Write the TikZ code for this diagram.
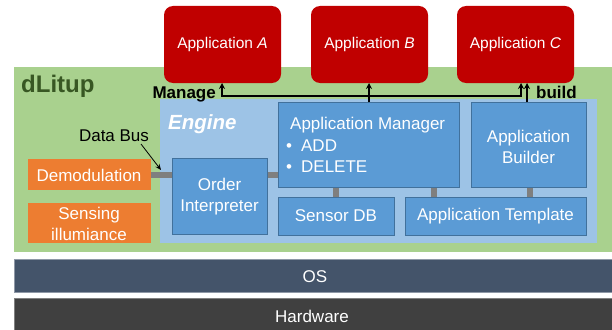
\documentclass[tikz,border=0pt]{standalone}
\usepackage{fontspec}
\setmainfont{Liberation Sans}
\usetikzlibrary{arrows.meta}
\definecolor{cgreen}{HTML}{A9D18E}
\definecolor{cdgreen}{HTML}{385723}
\definecolor{clblue}{HTML}{9DC3E6}
\definecolor{cblue}{HTML}{5B9BD5}
\definecolor{cbblue}{HTML}{41719C}
\definecolor{corange}{HTML}{ED7D31}
\definecolor{cred}{HTML}{C00000}
\definecolor{cos}{HTML}{44546A}
\definecolor{chw}{HTML}{404040}
\definecolor{cbus}{HTML}{7F7F7F}
\tikzset{
  base/.style={anchor=north west, inner sep=0pt, outer sep=0pt},
  bluebox/.style={base, fill=cblue, draw=cbblue, line width=0.8pt, text=white, font=\fontsize{17}{21}\selectfont, align=center},
  orangebox/.style={base, fill=corange, text=white, font=\fontsize{17}{21}\selectfont, align=center},
  appbox/.style={base, fill=cred, rounded corners=9pt, text=white, font=\fontsize{15.5}{19}\selectfont},
  bar/.style={base, text=white, font=\fontsize{17}{21}\selectfont},
  wtext/.style={text=white, font=\fontsize{17}{21}\selectfont, inner sep=0pt},
  bus/.style={draw=cbus, line width=6pt},
  mgr/.style={draw=black, line width=1.8pt, -{Stealth[length=6pt,width=6pt]}},
  lbl/.style={font=\fontsize{17}{21}\selectfont\bfseries, inner sep=0pt},
}
\begin{document}
\begin{tikzpicture}[x=1pt,y=-1pt]
\useasboundingbox (0,0) rectangle (612,329);
% layers
\node[base, fill=cgreen, minimum width=598pt, minimum height=185pt] (dl) at (14,67) {};
\node[base, fill=cos, draw=cos!60!white, line width=0.6pt, minimum width=600pt, minimum height=33pt] (os) at (14,259) {};
\node[wtext] (ost) at (315,277) {OS};
\node[base, fill=chw, draw=gray, line width=0.6pt, minimum width=600pt, minimum height=33pt] (hw) at (14,298) {};
\node[wtext] (hwt) at (312,316) {Hardware};
\node[anchor=west, inner sep=0pt, text=cdgreen, font=\fontsize{24}{28}\selectfont\bfseries] (dlt) at (21,86) {dLitup};
% engine
\node[base, fill=clblue, minimum width=437pt, minimum height=144pt] (eng) at (160,99) {};
\node[anchor=west, inner sep=0pt, text=white, font=\fontsize{20.5}{24}\selectfont\bfseries\itshape] (engt) at (168,124) {Engine};
% buses
\draw[bus] (151,175) -- (172,175);
\draw[bus] (267,175) -- (278,175);
\draw[bus] (336,187) -- (336,197);
\draw[bus] (434,187) -- (434,197);
\draw[bus] (530,187) -- (530,197);
% orange boxes
\node[orangebox, minimum width=123pt, minimum height=31pt] (demod) at (28,159) {};
\node[wtext] (demodt) at (89,175) {Demodulation};
\node[orangebox, minimum width=123pt, minimum height=40pt] (sens) at (28,203) {};
\node[wtext, align=center, font=\fontsize{17}{21}\selectfont] (senst) at (89,223.5) {Sensing\\illumiance};
% blue boxes
\node[bluebox, minimum width=95pt, minimum height=76pt] (oi) at (172,158) {};
\node[wtext, align=center] (oit) at (219.5,197) {Order\\Interpreter};
\node[bluebox, minimum width=181pt, minimum height=85pt] (am) at (278,102) {};
\node[wtext, anchor=west] (amt) at (290,125) {Application Manager};
\node[wtext, anchor=west] (am1) at (286,146) {•\hspace{9pt}ADD};
\node[wtext, anchor=west] (am2) at (286,167) {•\hspace{9pt}DELETE};
\node[bluebox, minimum width=115pt, minimum height=85pt] (ab) at (471,102) {};
\node[wtext, align=center] (abt) at (528.5,146.5) {Application\\Builder};
\node[bluebox, minimum width=116pt, minimum height=38pt] (sdb) at (278,197) {};
\node[wtext] (sdbt) at (336,216) {Sensor DB};
\node[bluebox, minimum width=181pt, minimum height=38pt] (at) at (405,197) {};
\node[wtext] (att) at (495.5,216) {Application Template};
% applications
\node[appbox, minimum width=117pt, minimum height=77pt] (appA) at (164,6) {};
\node[wtext, font=\fontsize{15.5}{19}\selectfont] (appAt) at (222.5,44.5) {Application \textit{A}};
\node[appbox, minimum width=117pt, minimum height=77pt] (appB) at (311,6) {};
\node[wtext, font=\fontsize{15.5}{19}\selectfont] (appBt) at (369.5,44.5) {Application \textit{B}};
\node[appbox, minimum width=117pt, minimum height=77pt] (appC) at (457,6) {};
\node[wtext, font=\fontsize{15.5}{19}\selectfont] (appCt) at (515.5,44.5) {Application \textit{C}};
% manage arrows
\coordinate (mj) at (369,96);
\draw[mgr] (am.north -| mj) -- (appB.south -| mj);
\draw[mgr] (mj) -- (222,96) -- (222,83);
\draw[mgr] (mj) -- (521,96) -- (521,83);
\draw[mgr] (527,102) -- (527,83);
\node[lbl, anchor=east] (mt) at (216,94) {Manage};
\node[lbl, anchor=west] (bt) at (536,92) {build};
% data bus
\node[font=\fontsize{17}{21}\selectfont, inner sep=0pt] (dbt) at (114,136) {Data Bus};
\draw[-{Stealth[length=6pt,width=5pt]}, line width=0.8pt] (141,144) -- (161,170);
\end{tikzpicture}
\end{document}
